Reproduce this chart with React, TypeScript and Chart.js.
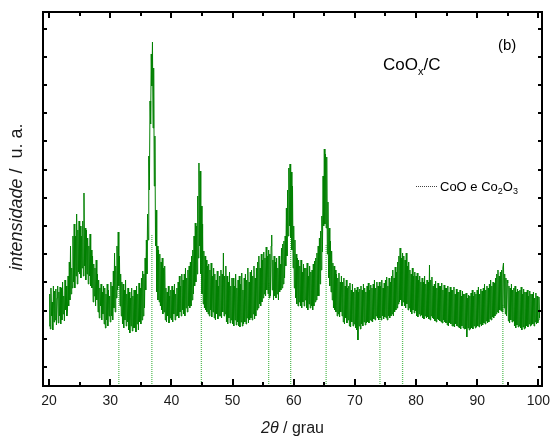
import React, { useEffect, useRef } from 'react';
import { Chart, registerables } from 'chart.js';

Chart.register(...registerables);

// ---- data -------------------------------------------------------------
// 2θ sampling grid (degrees)
const angleStart = 20.0;
const angleStep = 0.1;

// Diffracted intensity (arbitrary units), one row per degree (x.0 ... x.9)
const intensity: number[] = [
  60, 92, 57, 98, 70, 84, 56, 100, 64, 95, // 20
  66, 97, 61, 88, 100, 63, 94, 70, 99, 62, // 21
  98, 66, 104, 72, 90, 65, 106, 76, 100, 70, // 22
  76, 110, 80, 124, 86, 140, 92, 118, 98, 150, // 23
  104, 162, 98, 150, 110, 172, 102, 156, 114, 165, // 24
  112, 160, 108, 150, 118, 165, 110, 193, 120, 158, // 25
  106, 156, 112, 148, 102, 140, 110, 152, 100, 136, // 26
  98, 130, 84, 122, 90, 118, 80, 126, 86, 112, // 27
  74, 106, 68, 98, 80, 102, 66, 94, 72, 100, // 28
  62, 98, 58, 92, 66, 102, 60, 96, 70, 90, // 29
  64, 104, 70, 100, 66, 115, 78, 133, 74, 120, // 30
  88, 140, 96, 154, 100, 130, 80, 112, 70, 104, // 31
  62, 102, 58, 96, 66, 106, 60, 92, 64, 98, // 32
  56, 94, 53, 88, 60, 98, 55, 90, 58, 96, // 33
  58, 96, 54, 100, 62, 92, 56, 103, 64, 98, // 34
  62, 108, 66, 115, 70, 112, 78, 128, 96, 146, // 35
  112, 172, 146, 230, 196, 285, 262, 332, 300, 344, // 36
  258, 318, 200, 250, 140, 176, 94, 140, 86, 136, // 37
  84, 132, 80, 124, 76, 128, 72, 118, 74, 120, // 38
  66, 98, 64, 94, 70, 100, 63, 90, 68, 96, // 39
  66, 100, 64, 96, 72, 102, 66, 92, 70, 98, // 40
  70, 104, 68, 110, 74, 100, 70, 112, 76, 106, // 41
  72, 112, 70, 118, 78, 108, 74, 116, 80, 120, // 42
  78, 124, 80, 130, 86, 136, 92, 150, 100, 163, // 43
  104, 160, 112, 190, 128, 223, 140, 215, 112, 180, // 44
  92, 162, 82, 135, 78, 130, 76, 126, 74, 120, // 45
  72, 122, 70, 116, 76, 123, 69, 110, 74, 118, // 46
  68, 112, 66, 106, 72, 115, 67, 100, 70, 110, // 47
  70, 116, 68, 112, 74, 133, 70, 110, 72, 120, // 48
  64, 110, 62, 104, 68, 114, 63, 100, 66, 108, // 49
  62, 108, 60, 100, 66, 112, 61, 98, 64, 106, // 50
  60, 110, 59, 102, 64, 113, 60, 96, 62, 108, // 51
  64, 112, 62, 106, 68, 118, 63, 104, 66, 114, // 52
  68, 116, 66, 110, 72, 120, 67, 108, 70, 118, // 53
  76, 124, 78, 130, 82, 118, 80, 132, 84, 126, // 54
  88, 134, 92, 128, 90, 139, 96, 130, 92, 136, // 55
  88, 132, 90, 140, 151, 96, 126, 86, 130, 90, // 56
  124, 88, 128, 92, 118, 86, 130, 94, 122, 96, // 57
  138, 98, 142, 102, 145, 108, 150, 120, 178, 130, // 58
  196, 150, 218, 160, 222, 148, 214, 136, 200, 118, // 59
  160, 98, 146, 88, 132, 82, 128, 80, 126, 84, // 60
  120, 80, 126, 78, 114, 84, 122, 80, 118, 86, // 61
  118, 78, 123, 76, 110, 82, 120, 78, 114, 80, // 62
  116, 76, 122, 80, 125, 84, 128, 86, 133, 90, // 63
  140, 90, 148, 102, 155, 116, 170, 134, 210, 160, // 64
  237, 162, 232, 158, 229, 132, 184, 108, 158, 100, // 65
  145, 94, 135, 86, 123, 78, 120, 76, 116, 74, // 66
  112, 70, 108, 72, 113, 69, 104, 74, 110, 70, // 67
  104, 64, 108, 62, 100, 68, 106, 63, 98, 66, // 68
  100, 60, 103, 59, 96, 64, 102, 60, 94, 62, // 69
  98, 58, 96, 56, 99, 46, 94, 60, 97, 57, // 70
  100, 62, 96, 60, 102, 64, 98, 61, 94, 63, // 71
  100, 64, 103, 63, 96, 66, 101, 65, 98, 64, // 72
  102, 67, 106, 66, 98, 70, 104, 68, 100, 66, // 73
  104, 68, 100, 66, 106, 70, 98, 67, 103, 69, // 74
  106, 68, 109, 66, 100, 70, 108, 68, 104, 70, // 75
  110, 72, 116, 70, 108, 74, 119, 76, 114, 78, // 76
  124, 82, 130, 84, 138, 86, 128, 80, 133, 84, // 77
  130, 80, 126, 78, 133, 82, 120, 76, 124, 78, // 78
  116, 74, 112, 72, 118, 76, 110, 73, 114, 75, // 79
  110, 70, 113, 69, 106, 72, 110, 70, 104, 71, // 80
  108, 68, 104, 67, 110, 70, 102, 68, 106, 69, // 81
  104, 67, 121, 66, 106, 70, 109, 68, 100, 67, // 82
  102, 65, 105, 64, 98, 67, 103, 66, 100, 65, // 83
  100, 64, 103, 63, 96, 66, 101, 64, 98, 63, // 84
  98, 61, 100, 60, 94, 63, 99, 62, 96, 60, // 85
  96, 60, 99, 59, 92, 62, 97, 60, 94, 59, // 86
  94, 58, 96, 57, 90, 60, 95, 58, 92, 57, // 87
  92, 57, 93, 49, 88, 58, 91, 56, 90, 57, // 88
  93, 58, 96, 57, 90, 60, 94, 58, 92, 59, // 89
  96, 60, 99, 59, 92, 62, 97, 60, 95, 61, // 90
  98, 63, 102, 62, 96, 65, 100, 63, 98, 64, // 91
  102, 67, 106, 66, 100, 69, 104, 68, 103, 70, // 92
  108, 72, 112, 74, 116, 73, 110, 76, 114, 75, // 93
  116, 74, 118, 123, 78, 112, 72, 108, 70, 106, // 94
  103, 65, 100, 63, 98, 66, 102, 64, 96, 65, // 95
  98, 60, 100, 58, 94, 61, 97, 59, 95, 60, // 96
  96, 58, 99, 56, 92, 59, 97, 57, 94, 58, // 97
  94, 60, 96, 59, 90, 62, 95, 60, 92, 61, // 98
  92, 62, 94, 60, 88, 64, 93, 62, 90, 63, // 99
  66, 89, 68, // 100
];

// Reference reflections (CoO e Co2O3), position and drawn height
const refPeaks = [31.4, 36.8, 44.9, 55.9, 59.5, 65.3, 74.1, 77.8, 94.2];
const refHeights = [99, 151, 126, 104, 164, 141, 69, 78, 81];

// Axis ticks
const xMajorTicks = [20, 30, 40, 50, 60, 70, 80, 90, 100];
const xMinorTicks = [25, 35, 45, 55, 65, 75, 85, 95];
const yTickValues = [19, 47.2, 75.4, 103.6, 131.8, 160, 188.2, 216.4, 244.6, 272.8, 301, 329.2, 357.4];

const xMin = 19.0;
const xMax = 100.6;
const yMin = 0;
const yMax = 374;

const FONT = '"Liberation Sans", Arial, Helvetica, sans-serif';
const GREEN = '#008000';

const framePlugin = {
  id: 'frameDecor',
  afterDatasetsDraw(chart: any) {
    const { ctx, chartArea: a, scales } = chart;
    const x = scales.x;
    const y = scales.y;
    ctx.save();

    // frame
    ctx.strokeStyle = '#000';
    ctx.lineWidth = 2;
    ctx.strokeRect(a.left, a.top, a.right - a.left, a.bottom - a.top);

    // inward ticks
    ctx.beginPath();
    for (const v of xMajorTicks) {
      const px = Math.round(x.getPixelForValue(v));
      ctx.moveTo(px, a.bottom);
      ctx.lineTo(px, a.bottom - 7);
      ctx.moveTo(px, a.top);
      ctx.lineTo(px, a.top + 6);
    }
    for (const v of xMinorTicks) {
      const px = Math.round(x.getPixelForValue(v));
      ctx.moveTo(px, a.bottom);
      ctx.lineTo(px, a.bottom - 4);
      ctx.moveTo(px, a.top);
      ctx.lineTo(px, a.top + 4);
    }
    for (const v of yTickValues) {
      const py = Math.round(y.getPixelForValue(v));
      ctx.moveTo(a.left, py);
      ctx.lineTo(a.left + 4, py);
      ctx.moveTo(a.right, py);
      ctx.lineTo(a.right - 4, py);
    }
    ctx.stroke();

    // x tick labels
    ctx.fillStyle = '#1a1a1a';
    ctx.font = `14px ${FONT}`;
    ctx.textAlign = 'center';
    ctx.textBaseline = 'alphabetic';
    for (const v of xMajorTicks) {
      ctx.fillText(String(v), x.getPixelForValue(v), a.bottom + 19);
    }

    // x title: "2θ / grau"
    const cx = (a.left + a.right) / 2;
    ctx.textAlign = 'left';
    const partA = '2\u03B8';
    const partB = ' / grau';
    ctx.font = `italic 16px ${FONT}`;
    const wA = ctx.measureText(partA).width;
    ctx.font = `16px ${FONT}`;
    const wB = ctx.measureText(partB).width;
    const sx = cx - (wA + wB) / 2;
    ctx.font = `italic 16px ${FONT}`;
    ctx.fillText(partA, sx, a.bottom + 47);
    ctx.font = `16px ${FONT}`;
    ctx.fillText(partB, sx + wA, a.bottom + 47);

    // y title: "intensidade / u. a."
    const cy = (a.top + a.bottom) / 2 - 2;
    ctx.save();
    ctx.translate(22, cy);
    ctx.rotate(-Math.PI / 2);
    const yA = 'intensidade';
    const yB = ' /  u. a.';
    ctx.font = `italic 18px ${FONT}`;
    const wyA = ctx.measureText(yA).width;
    ctx.font = `18px ${FONT}`;
    const wyB = ctx.measureText(yB).width;
    const sy = -(wyA + wyB) / 2;
    ctx.font = `italic 18px ${FONT}`;
    ctx.fillText(yA, sy, 0);
    ctx.font = `18px ${FONT}`;
    ctx.fillText(yB, sy + wyA, 0);
    ctx.restore();

    // sample label CoOx/C
    ctx.fillStyle = '#000';
    let tx = 383;
    ctx.font = `17px ${FONT}`;
    ctx.fillText('CoO', tx, 70);
    tx += ctx.measureText('CoO').width;
    ctx.font = `11px ${FONT}`;
    ctx.fillText('x', tx, 75);
    tx += ctx.measureText('x').width;
    ctx.font = `17px ${FONT}`;
    ctx.fillText('/C', tx, 70);

    // panel label
    ctx.font = `15px ${FONT}`;
    ctx.fillText('(b)', 498, 50);

    // legend
    ctx.strokeStyle = '#444';
    ctx.lineWidth = 1;
    ctx.setLineDash([1, 1]);
    ctx.beginPath();
    ctx.moveTo(416, 186.5);
    ctx.lineTo(437, 186.5);
    ctx.stroke();
    ctx.setLineDash([]);
    let lx = 440;
    const parts: [string, number, number][] = [
      ['CoO e Co', 13, 191],
      ['2', 9, 194],
      ['O', 13, 191],
      ['3', 9, 194],
    ];
    for (const [t, s, b] of parts) {
      ctx.font = `${s}px ${FONT}`;
      ctx.fillText(t, lx, b);
      lx += ctx.measureText(t).width;
    }

    ctx.restore();
  },
};

export default function App() {
  const canvasRef = useRef<HTMLCanvasElement | null>(null);

  useEffect(() => {
    const canvas = canvasRef.current;
    if (!canvas) return;

    const pattern = intensity.map((v, i) => ({ x: +(angleStart + i * angleStep).toFixed(2), y: v }));
    const refLines: ({ x: number; y: number | null })[] = [];
    refPeaks.forEach((p, i) => {
      refLines.push({ x: p, y: 0 });
      refLines.push({ x: p, y: refHeights[i] });
      refLines.push({ x: p, y: null });
    });

    const chart = new Chart(canvas, {
      type: 'line',
      data: {
        datasets: [
          {
            label: 'CoOx/C',
            data: pattern as any,
            borderColor: GREEN,
            borderWidth: 1,
            pointRadius: 0,
            tension: 0,
            fill: false,
            order: 1,
          },
          {
            label: 'CoO e Co2O3',
            data: refLines as any,
            borderColor: '#5cbf5c',
            borderWidth: 1.3,
            borderDash: [1, 1],
            pointRadius: 0,
            spanGaps: false,
            fill: false,
            order: 2,
          },
        ],
      },
      options: {
        responsive: false,
        animation: false,
        events: [],
        layout: { padding: { left: 43, right: 10, top: 12, bottom: 56 } },
        plugins: { legend: { display: false }, tooltip: { enabled: false } },
        scales: {
          x: { type: 'linear', min: xMin, max: xMax, display: false },
          y: { type: 'linear', min: yMin, max: yMax, display: false },
        },
      },
      plugins: [framePlugin],
    });

    return () => chart.destroy();
  }, []);

  return (
    <div style={{ position: 'absolute', left: 0, top: 0, width: 552, height: 442, background: '#fff' }}>
      <canvas ref={canvasRef} width={552} height={442} style={{ width: 552, height: 442 }} />
    </div>
  );
}
